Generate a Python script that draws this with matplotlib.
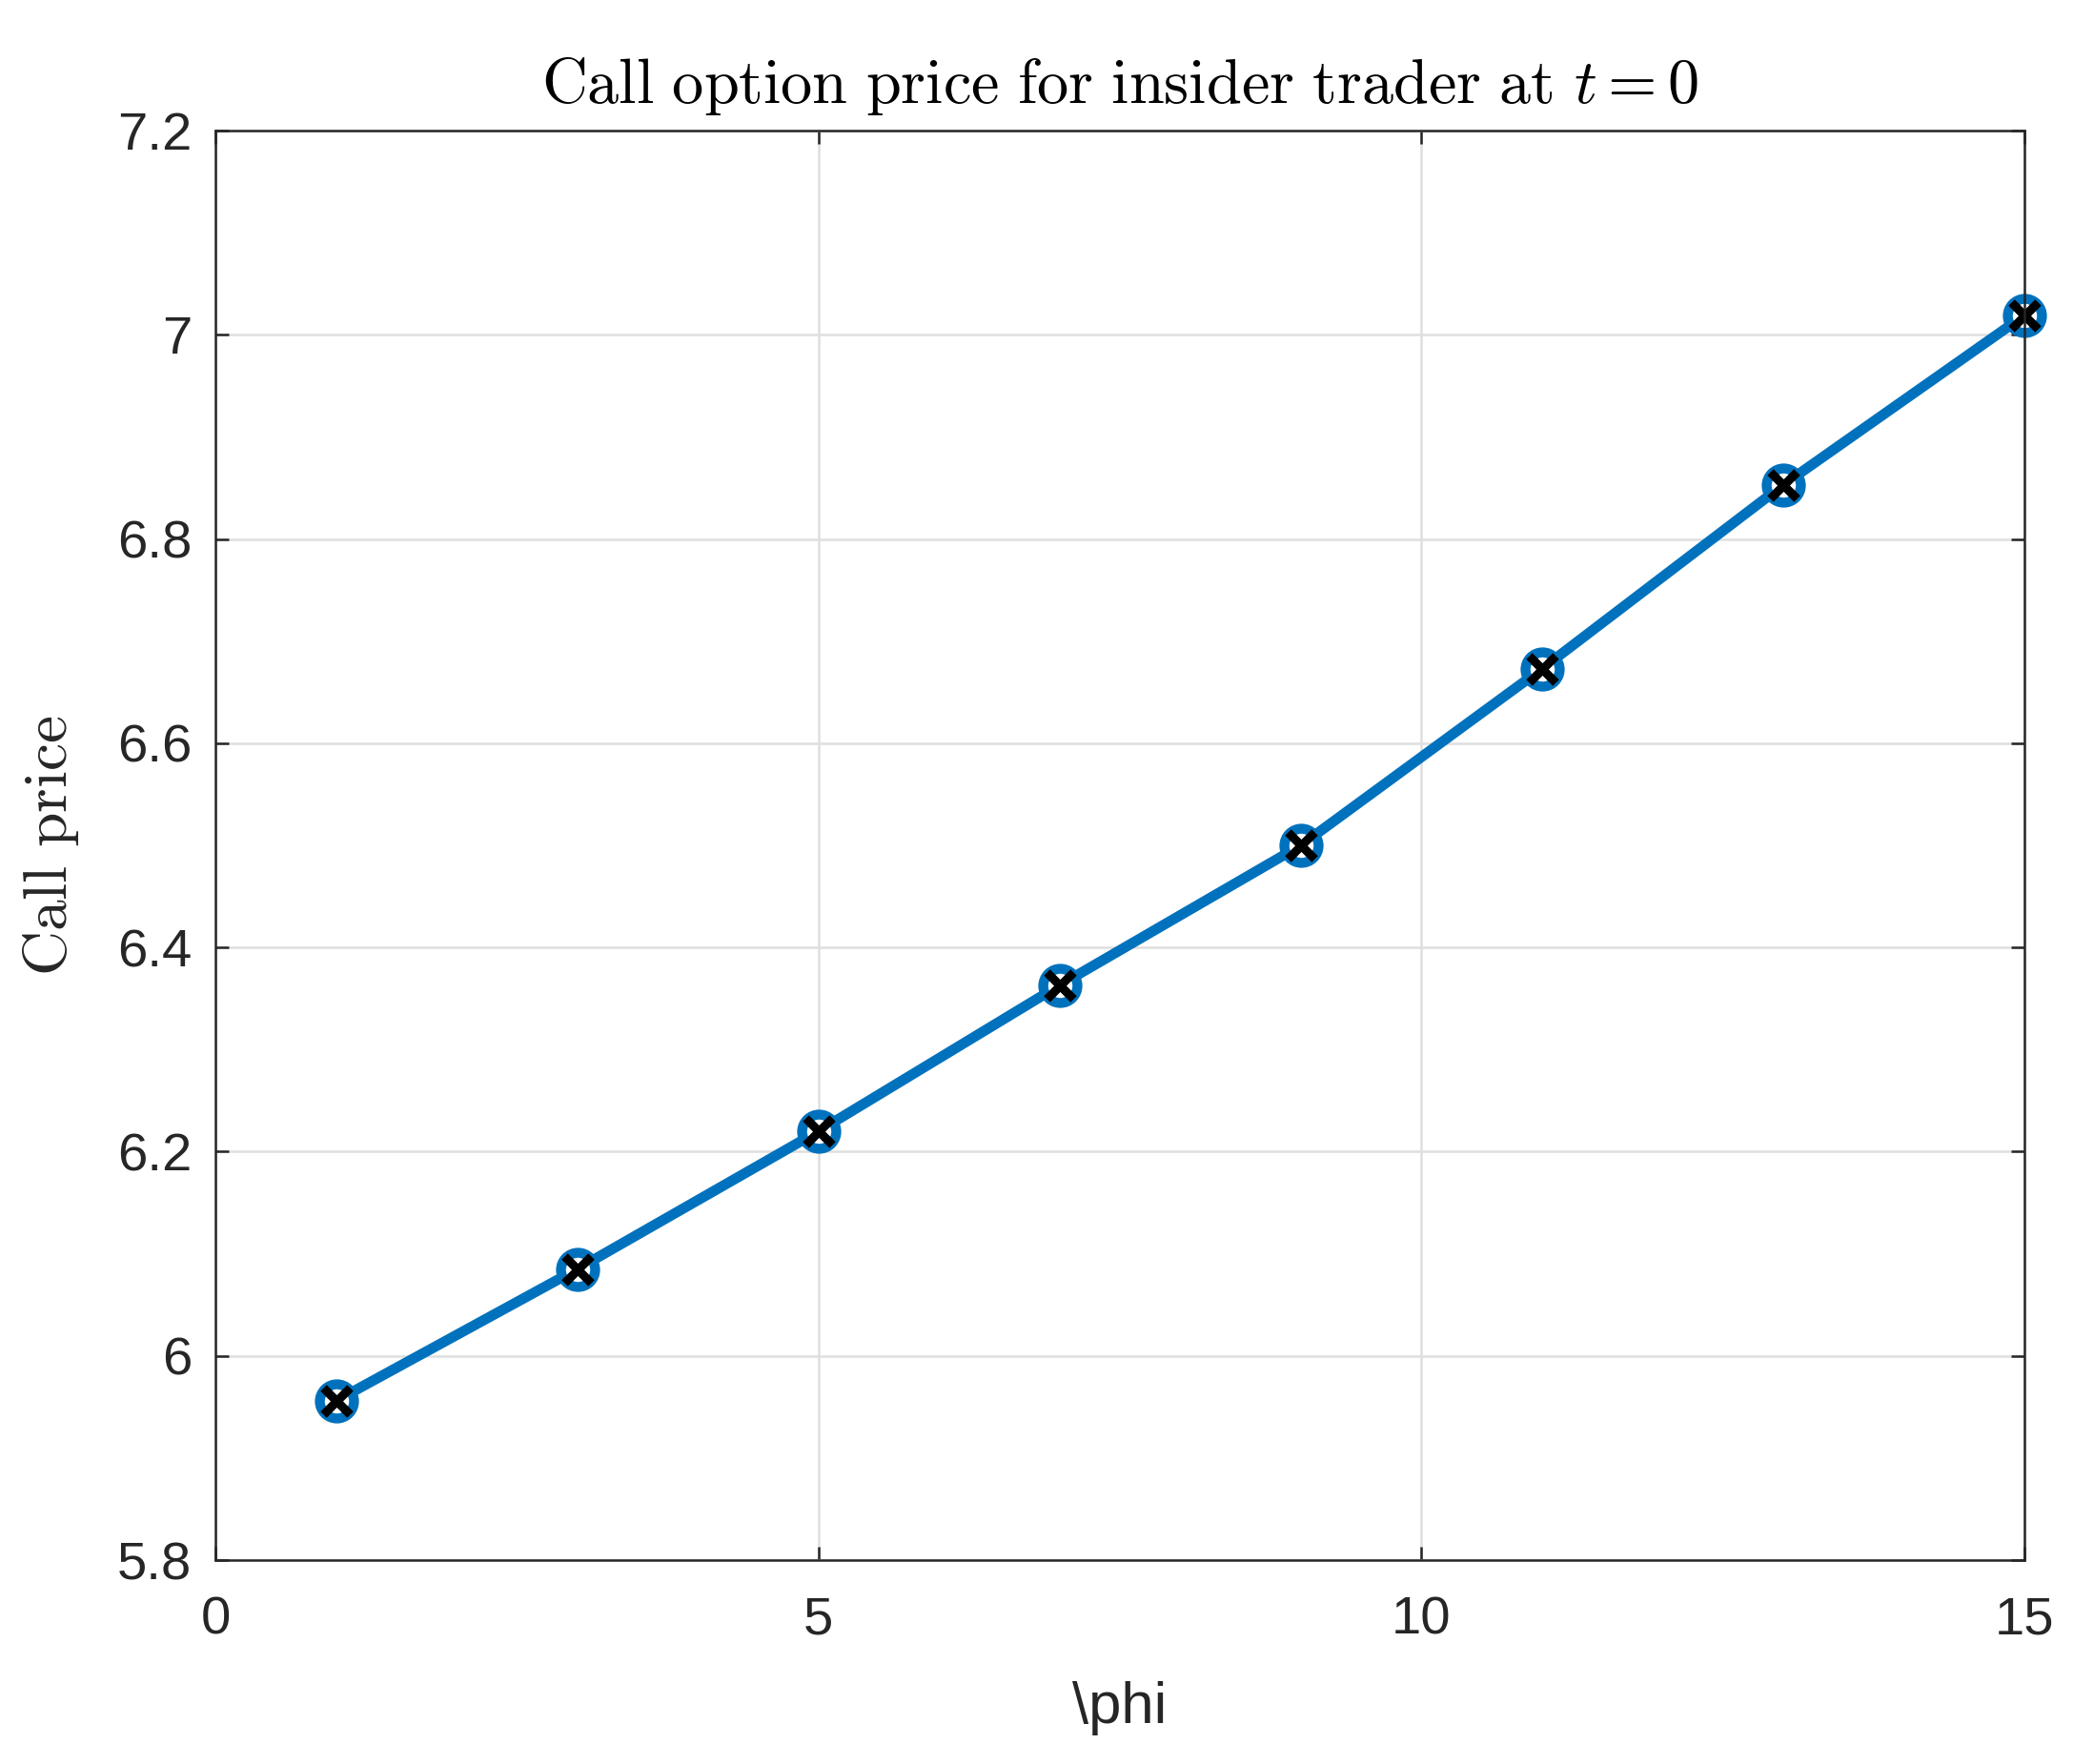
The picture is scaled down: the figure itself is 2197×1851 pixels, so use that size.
import numpy as np
import matplotlib.pyplot as plt
from matplotlib.ticker import FormatStrFormatter

# data
phi = [1, 3, 5, 7, 9, 11, 13, 15]
call_price = [5.956, 6.085, 6.220, 6.363, 6.500, 6.673, 6.853, 7.019]

xticks = [0, 5, 10, 15]
yticks = [5.8, 6.0, 6.2, 6.4, 6.6, 6.8, 7.0, 7.2]

plt.rcParams['font.family'] = ['Liberation Sans', 'DejaVu Sans']
plt.rcParams['mathtext.fontset'] = 'cm'

dark = '#262626'
blue = '#0072BD'

fig = plt.figure(figsize=(2197 / 300, 1851 / 300), dpi=300)
ax = fig.add_axes([0.1029, 0.1156, 0.9668 - 0.1029, 0.926 - 0.1156])

ax.plot(phi, call_price, '-o', color=blue, lw=2.6, ms=8.6, mew=2.5,
        mfc='white', mec=blue, zorder=3, clip_on=False)
ax.plot(phi, call_price, 'x', color='black', ms=6.5, mew=2.2, zorder=4,
        clip_on=False)

ax.set_xlim(0, 15)
ax.set_ylim(5.8, 7.2)
ax.set_xticks(xticks)
ax.set_yticks(yticks)
ax.yaxis.set_major_formatter(FormatStrFormatter('%g'))

ax.grid(True, color='#dfdfdf', lw=0.6)
ax.set_axisbelow(True)
ax.tick_params(direction='in', top=True, right=True, length=3.4, width=0.6,
               colors=dark, labelsize=13.5)
ax.tick_params(axis='x', pad=9)
ax.tick_params(axis='y', pad=6)
for s in ax.spines.values():
    s.set_color(dark)
    s.set_linewidth(0.6)
    s.set_zorder(5)

ax.set_xlabel(r'\phi', fontsize=14.8, color=dark, labelpad=9)
ax.set_ylabel(r'$\mathrm{Call\ price}$', fontsize=15.7, color=dark, labelpad=9)
ax.set_title(r'$\mathrm{Call\ option\ price\ for\ insider\ trader\ at\ }t=0$',
             fontsize=15.9, color='black', pad=7)

fig.savefig('out.png', dpi=300)
